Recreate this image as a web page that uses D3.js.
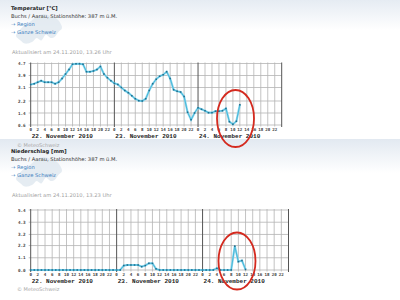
<!DOCTYPE html>
<html>
<head>
<meta charset="utf-8">
<script src="https://cdn.jsdelivr.net/npm/d3@7"></script>
<style>
  html, body { margin: 0; padding: 0; background: #fff; }
  svg { display: block; font-family: "DejaVu Sans", Verdana, sans-serif; }
</style>
</head>
<body>
<svg id="chart" width="400" height="300"></svg>
<script>
// hourly values, starting 22.11.2010 00h, last value 24.11. 12h
const tempValues = [
  3.3, 3.35, 3.45, 3.55, 3.45, 3.45, 3.45, 3.35, 3.45, 3.7, 4.0, 4.3,
  4.65, 4.68, 4.68, 4.65, 4.15, 4.15, 4.2, 4.3, 4.5, 4.0, 3.75, 3.55,
  3.38, 3.3, 3.1, 2.9, 2.75, 2.55, 2.35, 2.22, 2.2, 2.35, 2.9, 3.35,
  3.65, 3.85, 3.95, 4.15, 3.7, 2.95, 2.85, 2.8, 2.5, 1.45, 0.95, 1.4,
  1.75, 1.65, 1.55, 1.42, 1.42, 1.52, 1.52, 1.55, 1.7, 0.82, 0.65, 0.85,
  1.95
];
const rainValues = [
  0, 0, 0, 0, 0, 0, 0, 0, 0, 0, 0, 0,
  0, 0, 0, 0, 0, 0, 0, 0, 0, 0, 0, 0,
  0, 0, 0.4, 0.45, 0.45, 0.45, 0.45, 0.3, 0.4, 0.6, 0.6, 0.1,
  0, 0, 0, 0, 0, 0, 0, 0, 0, 0, 0, 0,
  0, 0, 0, 0, 0.15, 0, 0, 0, 0, 2.15, 0.75, 0.85,
  0.05
];
const tempTicks = [0.6, 1.4, 2.2, 3.1, 3.9, 4.7];
const rainTicks = [0.0, 1.1, 2.2, 3.2, 4.3, 5.4];
const dayLabels = ["22. November 2010", "23. November 2010", "24. November 2010"];
const hourTicks = d3.range(0, 72, 2);

const svg = d3.select("#chart");

// header background gradient
const defs = svg.append("defs");
const grad = defs.append("linearGradient").attr("id", "hdr").attr("x1", 0).attr("y1", 0).attr("x2", 0).attr("y2", 1);
grad.append("stop").attr("offset", "0%").attr("stop-color", "#e2e9f1");
grad.append("stop").attr("offset", "100%").attr("stop-color", "#ffffff");

// rough Switzerland outline (decoration behind the links)
const swiss = [[0,0.55],[0.08,0.4],[0.2,0.27],[0.3,0.2],[0.45,0.06],[0.6,0],[0.75,0.05],[0.86,0.1],
  [0.95,0.2],[1,0.35],[0.92,0.45],[0.85,0.56],[0.75,0.6],[0.65,0.52],[0.55,0.66],[0.45,0.6],
  [0.35,0.7],[0.2,0.74],[0.1,0.66]];

function drawHeader(top, title, updated) {
  svg.append("rect").attr("x", 0).attr("y", top - 12).attr("width", 400).attr("height", 34)
    .attr("fill", "url(#hdr)");
  svg.append("path")
    .attr("d", d3.line().x(d => 16 + d[0] * 46).y(d => top + 6 + d[1] * 40).curve(d3.curveCardinalClosed)(swiss))
    .attr("fill", "#dfe7ef").attr("opacity", 0.8);

  const t = svg.append("g").attr("font-size", 5.2);
  t.append("text").attr("x", 11).attr("y", top + 1.8).attr("font-weight", "bold").attr("fill", "#222").text(title);
  t.append("text").attr("x", 11).attr("y", top + 9.5).attr("fill", "#333").text("Buchs / Aarau, Stationshöhe: 387 m ü.M.");
  t.append("text").attr("x", 11).attr("y", top + 17.5).attr("fill", "#3f7fc0").text("→ Region");
  t.append("text").attr("x", 11).attr("y", top + 25.5).attr("fill", "#3f7fc0").text("→ Ganze Schweiz");
  t.append("text").attr("x", 12).attr("y", top + 45.5).attr("fill", "#a0a0a0").text(updated);
}

function drawChart({ values, ticks, x0, x1, yTop, yBot, fmt, hourY, dayY, copyY }) {
  const x = d3.scaleLinear().domain([0, 72]).range([x0, x1]);
  const y = d3.scaleLinear().domain([ticks[0], ticks[ticks.length - 1]]).range([yBot, yTop]);
  const g = svg.append("g");

  // vertical grid
  g.append("g").selectAll("line").data(hourTicks.filter(h => h % 24 !== 0)).join("line")
    .attr("x1", d => x(d)).attr("x2", d => x(d))
    .attr("y1", yTop - 1).attr("y2", yBot + 1.5)
    .attr("stroke", "#b4b4b4").attr("stroke-width", 0.8);

  // horizontal grid
  g.append("g").selectAll("line").data(ticks).join("line")
    .attr("x1", x0 - 2).attr("x2", x1)
    .attr("y1", d => y(d)).attr("y2", d => y(d))
    .attr("stroke", "#b4b4b4").attr("stroke-width", 0.8);

  // day separators + borders
  g.append("g").selectAll("line").data([0, 24, 48, 72]).join("line")
    .attr("x1", d => x(d)).attr("x2", d => x(d))
    .attr("y1", yTop - 1).attr("y2", yBot + 2)
    .attr("stroke", "#555").attr("stroke-width", 1);

  // y labels
  g.append("g").selectAll("text").data(ticks).join("text")
    .attr("x", x0 - 5).attr("y", d => y(d) + 1.5)
    .attr("text-anchor", "end")
    .attr("font-family", "DejaVu Sans Mono, monospace")
    .attr("font-size", 4.3).attr("font-weight", "bold").attr("fill", "#444")
    .text(fmt);

  // hour labels
  g.append("g").selectAll("text").data(hourTicks).join("text")
    .attr("x", d => x(d)).attr("y", hourY)
    .attr("text-anchor", "middle")
    .attr("font-family", "DejaVu Sans Mono, monospace")
    .attr("font-size", 4.2).attr("font-weight", "bold").attr("fill", "#444")
    .text(d => d % 24);

  // day labels
  g.append("g").selectAll("text").data(dayLabels).join("text")
    .attr("x", (d, i) => x(i * 24) + 1).attr("y", dayY)
    .attr("font-family", "Liberation Mono, monospace")
    .attr("font-size", 6).attr("font-weight", "bold").attr("fill", "#222")
    .text(d => d);

  g.append("text").attr("x", 17).attr("y", copyY)
    .attr("font-size", 5).attr("fill", "#a8a8a8").text("© MeteoSchweiz");

  // series
  const line = d3.line().x((d, i) => x(i)).y(d => y(d));
  g.append("path").datum(values).attr("d", line)
    .attr("fill", "none").attr("stroke", "#8fd8ee").attr("stroke-width", 2.2);
  g.append("path").datum(values).attr("d", line)
    .attr("fill", "none").attr("stroke", "#3fb3d6").attr("stroke-width", 0.9);
  g.append("g").selectAll("rect").data(values).join("rect")
    .attr("x", (d, i) => x(i) - 0.8).attr("y", d => y(d) - 0.8)
    .attr("width", 1.6).attr("height", 1.6)
    .attr("fill", "#226f8e");
}

drawHeader(8, "Temperatur [°C]", "Aktualisiert am 24.11.2010, 13.26 Uhr");
drawHeader(151, "Niederschlag [mm]", "Aktualisiert am 24.11.2010, 13.23 Uhr");

drawChart({
  values: tempValues, ticks: tempTicks, x0: 30.7, x1: 281.7, yTop: 63.5, yBot: 125,
  fmt: d => d.toFixed(1), hourY: 130.8, dayY: 138, copyY: 146.5
});
drawChart({
  values: rainValues, ticks: rainTicks, x0: 30.7, x1: 288.5, yTop: 210, yBot: 270,
  fmt: d => d.toFixed(1), hourY: 275.8, dayY: 282.5, copyY: 291
});

// red highlight ellipses
svg.append("g").selectAll("ellipse").data([[235.5, 118.5], [237, 261]]).join("ellipse")
  .attr("cx", d => d[0]).attr("cy", d => d[1]).attr("rx", 18.5).attr("ry", 28.5)
  .attr("fill", "none").attr("stroke", "#d42a1f").attr("stroke-width", 1.8);
</script>
</body>
</html>
